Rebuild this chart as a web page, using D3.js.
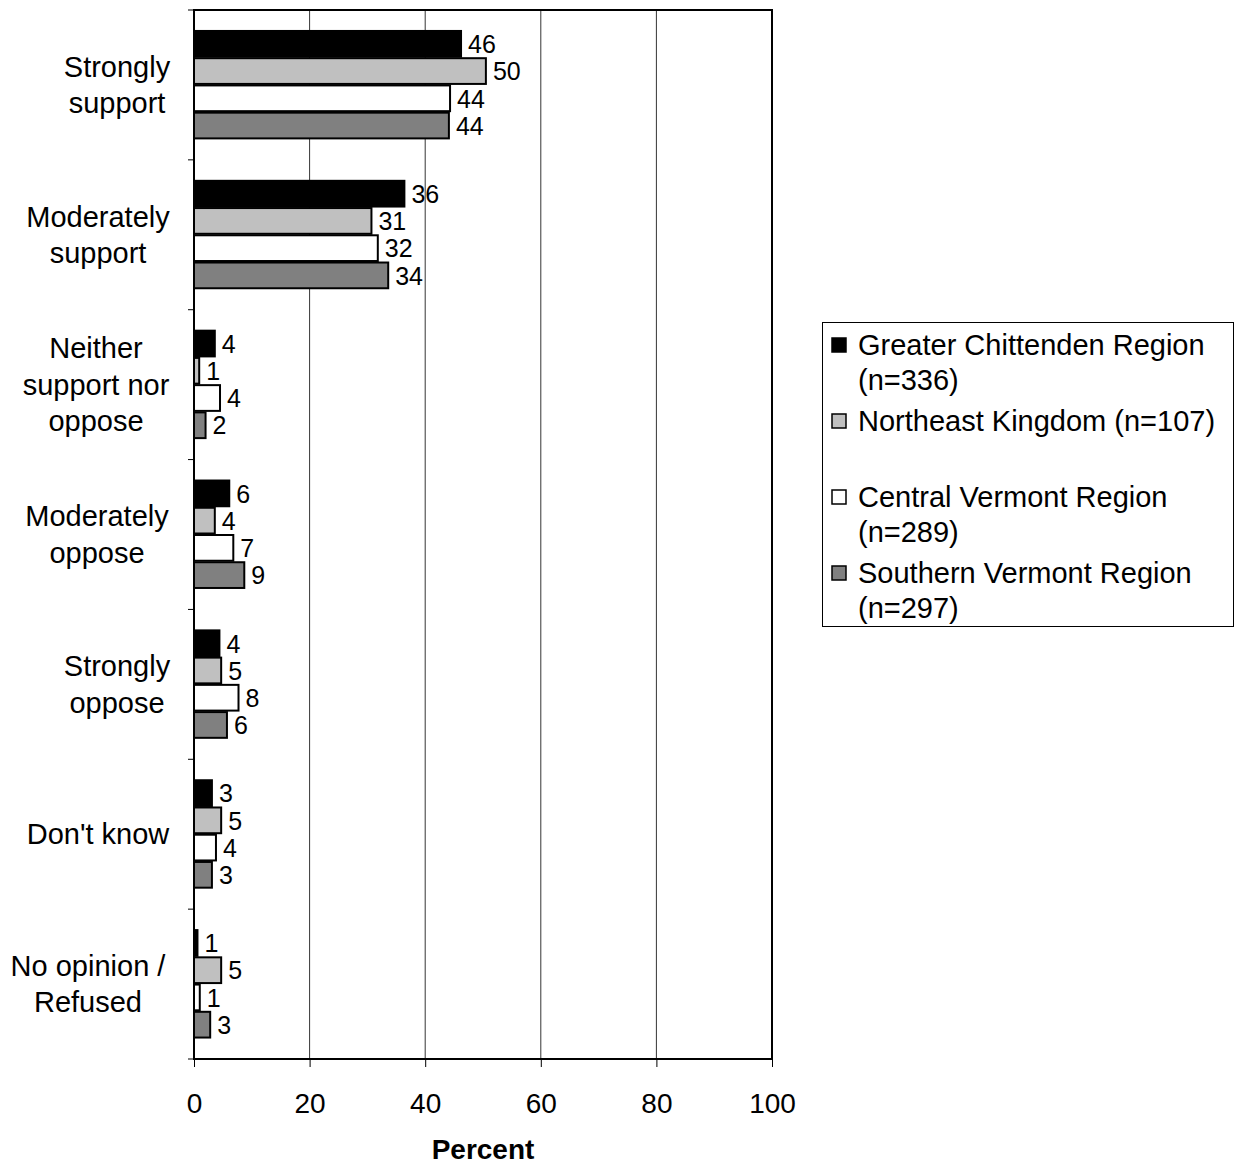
<!DOCTYPE html>
<html><head><meta charset="utf-8">
<script src="https://cdn.jsdelivr.net/npm/d3@7"></script>
<style>body{margin:0;background:#fff}svg{display:block;font-family:"Liberation Sans",Arial,sans-serif}</style>
</head><body><svg id="c" width="1235" height="1167"></svg>
<script>
const categories = ["Strongly support","Moderately support","Neither support nor oppose","Moderately oppose","Strongly oppose","Don't know","No opinion / Refused"];
const categoryLines = [["Strongly","support"],["Moderately","support"],["Neither","support nor","oppose"],["Moderately","oppose"],["Strongly","oppose"],["Don't know"],["No opinion /","Refused"]];
const seriesNames = ["Greater Chittenden Region (n=336)","Northeast Kingdom (n=107)","Central Vermont Region (n=289)","Southern Vermont Region (n=297)"];
const legendLines = [["Greater Chittenden Region","(n=336)"],["Northeast Kingdom (n=107)"],["Central Vermont Region","(n=289)"],["Southern Vermont Region","(n=297)"]];
const chittenden = [46.2,36.4,3.6,6.1,4.4,3.1,0.6];
const northeast  = [50.5,30.7,0.9,3.6,4.7,4.7,4.7];
const central    = [44.3,31.8,4.5,6.8,7.7,3.8,1.0];
const southern   = [44.1,33.6,2.0,8.7,5.7,3.1,2.8];
const chittendenLabels = [46,36,4,6,4,3,1];
const northeastLabels  = [50,31,1,4,5,5,5];
const centralLabels    = [44,32,4,7,8,4,1];
const southernLabels   = [44,34,2,9,6,3,3];
const xTicks = [0,20,40,60,80,100];
const xTitle = "Percent";

const series = [
  {name: seriesNames[0], values: chittenden, labels: chittendenLabels, fill: "#000000"},
  {name: seriesNames[1], values: northeast, labels: northeastLabels, fill: "#c0c0c0"},
  {name: seriesNames[2], values: central, labels: centralLabels, fill: "#ffffff"},
  {name: seriesNames[3], values: southern, labels: southernLabels, fill: "#808080"}
];
const labelCenters = [117, 98, 96, 97, 117, 98, 88];

const svg = d3.select("#c");
const L = 194, R = 772, T = 10, B = 1059;
const x = d3.scaleLinear().domain([0,100]).range([L,R]);
const y = d3.scaleBand().domain(categories).range([T,B]).paddingInner(0.273).paddingOuter(0.1365);
const ySub = d3.scaleBand().domain(d3.range(series.length)).range([0,y.bandwidth()]);

// gridlines
svg.append("g").selectAll("line").data(xTicks.filter(t=>t>0&&t<100)).join("line")
  .attr("x1",d=>x(d)).attr("x2",d=>x(d)).attr("y1",T).attr("y2",B)
  .attr("stroke","#000").attr("stroke-width",0.8);

// bars
const step = y.step();
series.forEach((s,si)=>{
  const g = svg.append("g");
  g.selectAll("rect").data(categories).join("rect")
    .attr("x",x(0)).attr("y",(c)=>y(c)+ySub(si)+0.5)
    .attr("width",(c,i)=>x(s.values[i])-x(0)).attr("height",ySub.bandwidth()-1.5)
    .attr("fill",s.fill).attr("stroke","#000").attr("stroke-width",2);
  g.selectAll("text").data(categories).join("text")
    .attr("x",(c,i)=>x(s.values[i])+7).attr("y",(c)=>y(c)+ySub(si)+ySub.bandwidth()/2+9)
    .attr("font-size",25).attr("fill","#000").text((c,i)=>s.labels[i]);
});

// plot border
svg.append("rect").attr("x",L).attr("y",T).attr("width",R-L).attr("height",B-T)
  .attr("fill","none").attr("stroke","#000").attr("stroke-width",2);

// left ticks at group boundaries
const bounds = d3.range(categories.length+1).map(i=>T+i*step);
svg.append("g").selectAll("line").data(bounds).join("line")
  .attr("x1",L-6).attr("x2",L).attr("y1",d=>d).attr("y2",d=>d).attr("stroke","#000").attr("stroke-width",1);

// bottom axis ticks & labels
const xAxis = d3.axisBottom(x).tickValues(xTicks).tickSize(8).tickPadding(26).tickFormat(d3.format("d"));
const gx = svg.append("g").attr("transform",`translate(0,${B})`).call(xAxis);
gx.select(".domain").remove();
gx.selectAll("line").attr("stroke","#000").attr("stroke-width",1);
gx.selectAll("text").attr("font-size",28).attr("font-family","Liberation Sans, Arial, sans-serif").attr("fill","#000");

svg.append("text").attr("x",483).attr("y",1159).attr("text-anchor","middle")
  .attr("font-size",28).attr("font-weight","bold").text(xTitle);

// category labels
categories.forEach((c,i)=>{
  const lines = categoryLines[i];
  const lh = 36.5;
  const cy = y(c) + y.bandwidth()/2;
  const y0 = cy - (lines.length-1)*lh/2 + 10;
  const t = svg.append("text").attr("text-anchor","middle").attr("font-size",29).attr("fill","#000");
  lines.forEach((ln,j)=>t.append("tspan").attr("x",labelCenters[i]).attr("y",y0+j*lh).text(ln));
});

// legend
svg.append("rect").attr("x",822.5).attr("y",322.5).attr("width",411).attr("height",304)
  .attr("fill","#fff").attr("stroke","#000").attr("stroke-width",1);
const legendY = [345, 421, 497, 573];
series.forEach((s,i)=>{
  svg.append("rect").attr("x",832).attr("y",legendY[i]-7).attr("width",14).attr("height",14)
    .attr("fill",s.fill).attr("stroke","#000").attr("stroke-width",1.5);
  const t = svg.append("text").attr("font-size",29).attr("fill","#000");
  legendLines[i].forEach((ln,j)=>t.append("tspan").attr("x",858).attr("y",legendY[i]+10+j*35).text(ln));
});
</script></body></html>
